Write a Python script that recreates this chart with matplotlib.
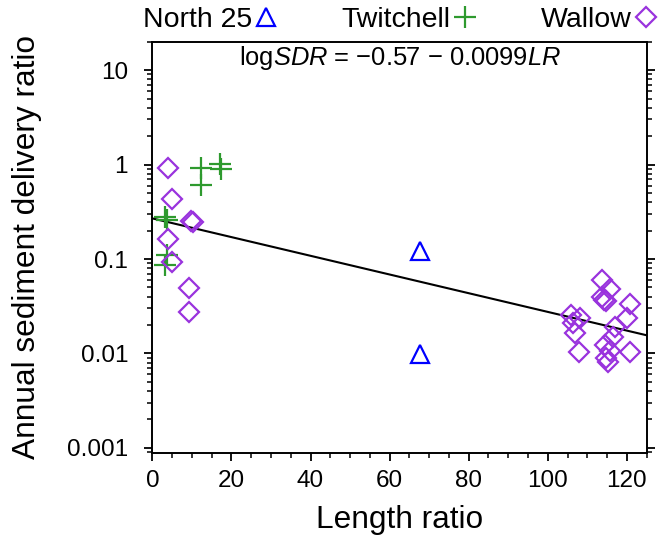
import numpy as np
import matplotlib
matplotlib.use('Agg')
import matplotlib.pyplot as plt
from matplotlib.ticker import FixedLocator, FixedFormatter, MultipleLocator, LogLocator, NullFormatter

plt.rcParams['font.family'] = ['Liberation Sans', 'DejaVu Sans']
plt.rcParams['mathtext.fontset'] = 'custom'
plt.rcParams['mathtext.rm'] = 'Liberation Sans'
plt.rcParams['mathtext.it'] = 'Liberation Sans:italic'

# North 25 (triangles)
north_lr = [67.8, 67.6]
north_sdr = [0.122, 0.0099]

# Twitchell (plus signs)
twitchell_lr = [3.3, 3.6, 3.6, 3.1, 12.3, 12.3, 17.1, 17.3]
twitchell_sdr = [0.28, 0.26, 0.11, 0.087, 0.91, 0.61, 1.01, 0.89]

# Wallow (diamonds)
wallow_lr = [4.0, 4.9, 9.9, 10.2, 4.0, 4.9, 9.3, 9.3,
             113.8, 115.6, 113.6, 114.3, 114.8, 120.7, 105.8, 108.1, 120.1,
             106.4, 106.8, 116.9, 116.5, 114.4, 107.8, 115.6, 120.7, 114.8, 115.2]
wallow_sdr = [0.93, 0.43, 0.25, 0.245, 0.163, 0.094, 0.0497, 0.0277,
              0.060, 0.048, 0.040, 0.037, 0.036, 0.033, 0.0255, 0.0236, 0.0239,
              0.0209, 0.0164, 0.0192, 0.0151, 0.0123, 0.0103, 0.0106, 0.0103, 0.0090, 0.0082]

# regression: log SDR = a + b * LR
fit_a = -0.57
fit_b = -0.0099
fit_lr = np.array([0, 125])

fig = plt.figure(figsize=(6.58, 5.41), dpi=100)
ax = fig.add_axes([0.2315, 0.1632, 0.7513, 0.7598])

ax.plot(fit_lr, 10 ** (fit_a + fit_b * fit_lr), color='black', lw=1.5, zorder=2)

h1, = ax.plot(north_lr, north_sdr, '^', ms=13, mfc='none', mec='#0000ff', mew=1.6,
              ls='none', label='North 25', zorder=3)
h2, = ax.plot(twitchell_lr, twitchell_sdr, '+', ms=16, mec='#2e9a2e', mew=1.6,
              ls='none', label='Twitchell', zorder=3)
h3, = ax.plot(wallow_lr, wallow_sdr, 'D', ms=10.3, mfc='none', mec='#9933dd', mew=1.6,
              ls='none', label='Wallow', zorder=3)

ax.set_yscale('log')
ax.set_xlim(0, 125)
ax.set_ylim(0.00089, 20)

ax.xaxis.set_major_locator(MultipleLocator(20))
ax.xaxis.set_minor_locator(MultipleLocator(5))
ax.yaxis.set_major_locator(FixedLocator([0.001, 0.01, 0.1, 1, 10]))
ax.yaxis.set_major_formatter(FixedFormatter(['0.001', '0.01', '0.1', '1', '10']))
ax.yaxis.set_minor_locator(LogLocator(base=10, subs=np.arange(2, 10)))
ax.yaxis.set_minor_formatter(NullFormatter())

ax.tick_params(axis='both', which='major', direction='out', length=6, width=1.3,
               labelsize=17.5)
ax.tick_params(axis='both', which='minor', direction='out', length=3.5, width=1.1)
ax.tick_params(axis='x', which='major', pad=6.5)
ax.tick_params(axis='y', which='major', pad=11.5)
ax.tick_params(axis='y', which='both', left=True, right=True, labelright=False)
ax.tick_params(axis='x', which='both', top=False)
for s in ax.spines.values():
    s.set_linewidth(1.4)

ax.set_xlabel('Length ratio', fontsize=22.8)
ax.set_ylabel('Annual sediment delivery ratio', fontsize=22.8)
ax.xaxis.set_label_coords(0.5, -0.128)
ax.yaxis.set_label_coords(-0.223, 0.5)

ax.text(0.5, 0.96, r'log$\mathit{SDR}$ = −0.57 − 0.0099$\mathit{LR}$',
        transform=ax.transAxes, ha='center', va='center', fontsize=18.4)

fig.legend(handles=[h1, h2, h3], loc='center', bbox_to_anchor=(400 / 658, 1 - 20 / 541),
           ncol=3, frameon=False, fontsize=20.5, markerfirst=False,
           handlelength=0.8, handletextpad=0.1, columnspacing=2.25)

fig.savefig('out.png', dpi=100)
